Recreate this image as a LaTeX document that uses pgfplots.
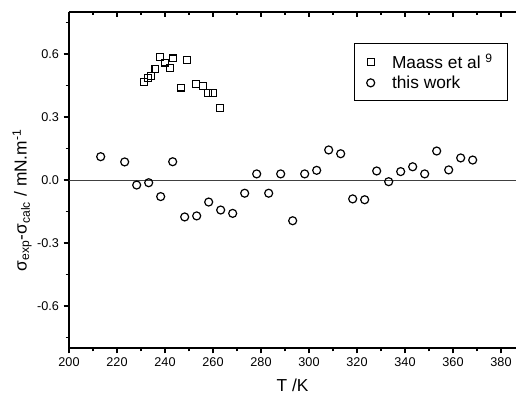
\documentclass[border=0pt]{standalone}
\usepackage{fontspec}
\setmainfont{Liberation Sans}
\usepackage{pgfplots}
\pgfplotsset{compat=1.18}
\begin{document}
\begin{tikzpicture}
\begin{axis}[name=ax, scale only axis, width=335.25pt, height=252pt,
  xmin=200, xmax=386.25, ymin=-0.8, ymax=0.8,
  axis x line*=bottom, axis y line*=left,
  axis line style={-, line width=1pt},
  xtick={200,220,...,380}, ytick={-0.6,-0.3,0,0.3,0.6},
  minor xtick={210,230,...,370}, minor ytick={-0.75,-0.45,-0.15,0.15,0.45,0.75},
  tick align=outside, major tick length=4pt, minor tick length=2.5pt,
  every tick/.style={black, line width=0.9pt},
  /pgf/number format/assume math mode=true,
  yticklabel style={/pgf/number format/fixed, /pgf/number format/fixed zerofill, /pgf/number format/precision=1},
  tick label style={font=\fontsize{9.5}{11}\selectfont},
  xlabel={T /K},
  ylabel={σ\textsubscript{exp}-σ\textsubscript{calc} / mN.m\textsuperscript{-1}},
  x label style={at={(axis description cs:0.5,-0.110)}, anchor=center, font=\fontsize{13}{15}\selectfont},
  y label style={at={(axis description cs:-0.105,0.44)}, anchor=center, rotate=0, font=\fontsize{13}{15}\selectfont},
  legend style={at={(axis description cs:0.982,0.908)}, anchor=north east, draw=black, line width=0.6pt, font=\fontsize{13}{15}\selectfont, inner xsep=9pt, inner ysep=6pt, row sep=0pt, column sep=11pt},
  legend cell align=left,
]
\addplot[black!75, line width=0.6pt, forget plot] coordinates {(200,0) (386.25,0)};
\addplot[only marks, mark=square, mark size=2.6pt, mark options={black, line width=0.9pt}] coordinates {
(231.2,0.467) (233.0,0.484) (234.3,0.495) (236.0,0.529) (238.0,0.587) (240.1,0.559)
(243.2,0.579) (242.2,0.535) (246.8,0.440) (249.3,0.570) (253.0,0.457) (255.8,0.448)
(257.9,0.414) (260.1,0.413) (263.0,0.344)
};
\addlegendentry{Maass et al \textsuperscript{9}}
\addplot[only marks, mark=o, mark size=3pt, mark options={black, line width=0.9pt}] coordinates {
(213.2,0.111) (223.2,0.086) (228.2,-0.024) (233.2,-0.013) (238.2,-0.079) (243.2,0.087)
(248.2,-0.176) (253.2,-0.171) (258.2,-0.105) (263.2,-0.143) (268.2,-0.159) (273.2,-0.063)
(278.2,0.029) (283.2,-0.063) (288.2,0.029) (293.2,-0.194) (298.2,0.029) (303.2,0.046)
(308.2,0.143) (313.2,0.125) (318.2,-0.090) (323.2,-0.094) (328.2,0.043) (333.2,-0.008)
(338.2,0.040) (343.2,0.063) (348.2,0.029) (353.2,0.138) (358.2,0.048) (363.2,0.105)
(368.2,0.095)
};
\addlegendentry{this work}
\end{axis}
\begin{axis}[scale only axis, width=335.25pt, height=252pt,
  xmin=200, xmax=386.25, ymin=-0.8, ymax=0.8,
  axis x line*=top, axis y line=none,
  axis line style={-, line width=1pt},
  xtick={200,220,...,380}, minor xtick={210,230,...,370}, xticklabels={}, ytick=\empty,
  tick align=inside, major tick length=4pt, minor tick length=2.5pt,
  every tick/.style={black, line width=0.9pt},
]
\end{axis}
\pgfresetboundingbox
\path[use as bounding box] (ax.south west) ++(-51.75pt,-37.5pt) rectangle ++(387pt,298.5pt);
\end{tikzpicture}
\end{document}
